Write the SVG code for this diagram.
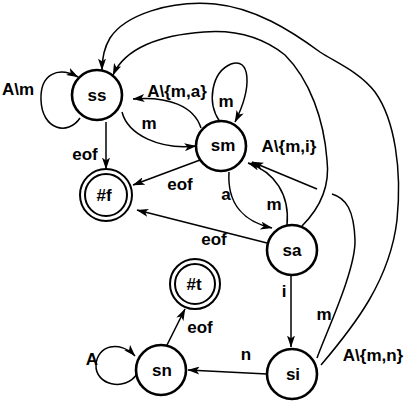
<svg xmlns="http://www.w3.org/2000/svg" width="408" height="401" viewBox="0 0 408 401">
<style>
.n{fill:none;stroke:#000;stroke-width:2.6}
.d{fill:none;stroke:#000;stroke-width:2}
.e{fill:none;stroke:#000;stroke-width:1.5;marker-end:url(#ah)}
.p{fill:none;stroke:#000;stroke-width:1.5}
text{font-family:"Liberation Sans",Arial,sans-serif;font-weight:bold;font-size:17px;text-anchor:middle;fill:#000}
</style>
<defs>
<marker id="ah" viewBox="0 0 12 8" refX="11.5" refY="4" markerWidth="12" markerHeight="8" markerUnits="userSpaceOnUse" orient="auto">
<path d="M0,0 L12,4 L0,8 L3,4 z" fill="#000"/>
</marker>
</defs>
<rect width="408" height="401" fill="#fff"/>
<g id="connectors">
<path class="e" d="M80,118 C68,136 42,130 41,100 C40,74 58,66 78,77"/>
<path class="e" d="M122,112 C128,135 160,150 196,146"/>
<path class="e" d="M201,128 C194,106 168,96 133,99"/>
<path class="e" d="M106,122 L106,169"/>
<path class="e" d="M200,160 L133,185"/>
<path class="e" d="M267,243 L137,210"/>
<path class="e" d="M220,122 C206,102 212,72 231,64 C250,57 253,86 235,122"/>
<path class="e" d="M229,172 C227,205 245,222 272,228"/>
<path class="e" d="M287,225 C290,195 275,172 248,163"/>
<path class="p" d="M317,358 C325,335 356,270 355,240 C354,210 346,198 332,194"/>
<path class="e" d="M317,189 L252,162"/>
<path class="e" d="M302,226 C320,208 330,185 327,160 C324,120 310,80 285,55 C260,35 230,30 204,32 C160,35 125,48 113,75"/>
<path class="e" d="M321,365 C355,325 390,280 397,220 C402,170 395,120 375,92 C360,72 335,62 320,52 C290,30 255,8 215,4 C170,0 125,15 110,38 C104,48 102,58 102,70"/>
<path class="e" d="M291,275 L291,347"/>
<path class="e" d="M267,374 L188,370"/>
<path class="e" d="M167,345 L185,309"/>
<path class="e" d="M137,374 C125,392 95,385 96,365 C97,345 120,340 135,356"/>
</g>
<g id="labels">
<text x="18" y="95">A\m</text>
<text x="149" y="129">m</text>
<text x="85" y="160">eof</text>
<text x="177" y="97">A\{m,a}</text>
<text x="226" y="107">m</text>
<text x="289" y="152">A\{m,i}</text>
<text x="180" y="190">eof</text>
<text x="226" y="200">a</text>
<text x="274" y="210">m</text>
<text x="214" y="245">eof</text>
<text x="284" y="297">i</text>
<text x="324" y="320">m</text>
<text x="246" y="360">n</text>
<text x="373" y="361">A\{m,n}</text>
<text x="92" y="365">A</text>
<text x="200" y="333">eof</text>
</g>
<g id="ss"><circle class="n" cx="97" cy="95" r="25"/><text x="97" y="101">ss</text></g>
<g id="sm"><circle class="n" cx="221" cy="146" r="25"/><text x="223" y="151">sm</text></g>
<g id="f"><circle class="d" cx="106" cy="195" r="26"/><circle class="d" cx="106" cy="195" r="21"/><text x="104" y="201">#f</text></g>
<g id="sa"><circle class="n" cx="292" cy="250" r="25"/><text x="292" y="256">sa</text></g>
<g id="t"><circle class="d" cx="195" cy="284" r="25"/><circle class="d" cx="195" cy="284" r="20"/><text x="194" y="290">#t</text></g>
<g id="sn"><circle class="n" cx="161" cy="370" r="25"/><text x="162" y="376">sn</text></g>
<g id="si"><circle class="n" cx="292" cy="374" r="25"/><text x="293" y="380">si</text></g>
</svg>
